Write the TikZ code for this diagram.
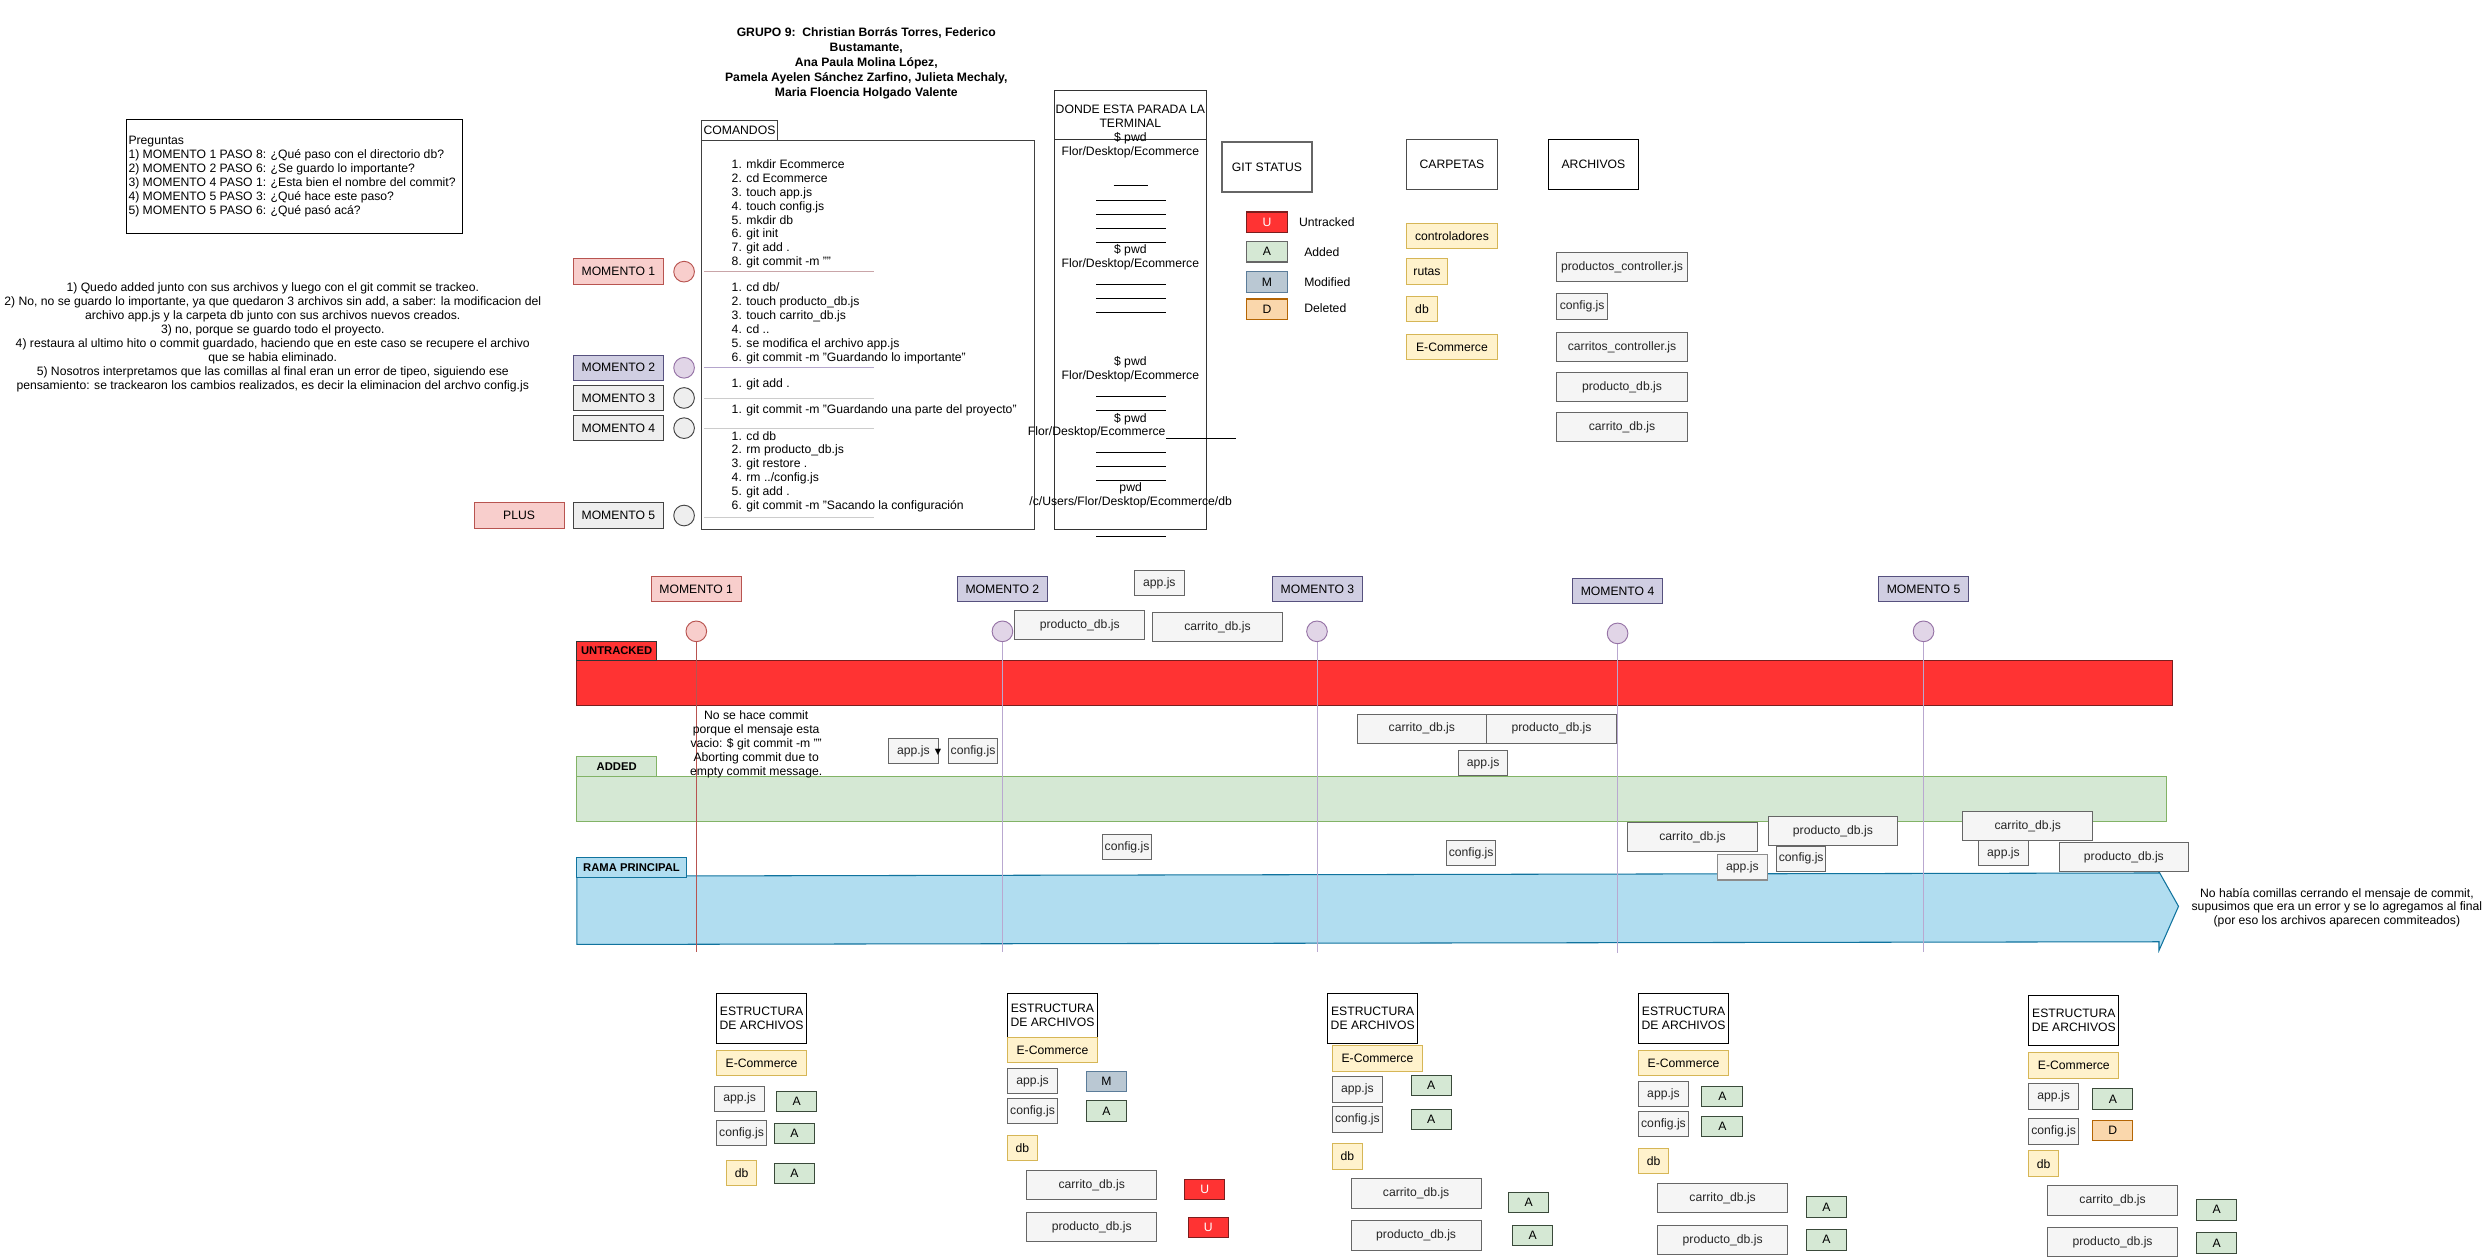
\documentclass[tikz,border=0pt]{standalone}
\usepackage{fontspec}
\setmainfont{Liberation Sans}
\newfontfamily\dejavu{DejaVu Sans}
\newcommand\fs{\fontsize{10.4}{11.9}\selectfont}
\newcommand\rbox[7]{\node[#1, minimum width={(#5-#3)*0.4766mm}, minimum height={(#6-#4)*0.4766mm}] (#2) at ({(#3+#5)/2},{(#4+#6)/2}) {#7};}
\definecolor{pinkF}{HTML}{F8CECC}\definecolor{pinkD}{HTML}{B85450}
\definecolor{purF}{HTML}{D0CEE2}\definecolor{purD}{HTML}{56517E}
\definecolor{lavF}{HTML}{E1D5E7}\definecolor{lavD}{HTML}{9673A6}
\definecolor{grayF}{HTML}{EEEEEE}\definecolor{grayD}{HTML}{444444}
\definecolor{fileF}{HTML}{F5F5F5}\definecolor{fileD}{HTML}{666666}
\definecolor{yelF}{HTML}{FFF2CC}\definecolor{yelD}{HTML}{D6B656}
\definecolor{grnF}{HTML}{D5E8D4}\definecolor{grnD}{HTML}{82B366}
\definecolor{aD}{HTML}{3A4A3A}
\definecolor{bluF}{HTML}{B1DDF0}\definecolor{bluD}{HTML}{10739E}
\definecolor{redF}{HTML}{FF3333}\definecolor{redD}{HTML}{7A1E1E}
\definecolor{mF}{HTML}{BAC8D3}\definecolor{mD}{HTML}{5B7C99}
\definecolor{dF}{HTML}{FAD7AC}\definecolor{dD}{HTML}{B46504}
\definecolor{sepP}{HTML}{C9A5A8}\definecolor{sepL}{HTML}{B4A5CC}\definecolor{sepG}{HTML}{CCCCCC}
\definecolor{vlav}{HTML}{B9A8D0}
\begin{document}
\begin{tikzpicture}[x=0.4766mm,y=-0.4766mm,
  bx/.style={draw, line width=0.8pt, inner sep=0pt, outer sep=0pt, font=\fs, align=center},
  txt/.style={inner sep=0pt, outer sep=0pt, font=\fs},
  plainb/.style={bx, draw=black, fill=white},
  pinkb/.style={bx, fill=pinkF, draw=pinkD},
  purb/.style={bx, fill=purF, draw=purD},
  grayb/.style={bx, fill=grayF, draw=grayD},
  fileb/.style={bx, fill=fileF, draw=fileD, text=black!85},
  yelb/.style={bx, fill=yelF, draw=yelD},
  stA/.style={bx, fill=grnF, draw=aD},
  stM/.style={bx, fill=mF, draw=mD},
  stU/.style={bx, fill=redF, draw=redD, text=white},
  stD/.style={bx, fill=dF, draw=dD},
  lbl/.style={bx, font=\fontsize{9.6}{11}\selectfont\bfseries},
  dot/.style={circle, line width=0.8pt, inner sep=0pt, minimum size=6.2mm},
  pdot/.style={dot, fill=pinkF, draw=pinkD},
  ldot/.style={dot, fill=lavF, draw=lavD},
  gdot/.style={dot, fill=grayF, draw=grayD},
  tline/.style={line width=0.8pt, black},
]
\useasboundingbox (0,0) rectangle (1568,792);
\fill[white] (0,0) rectangle (1568,792);

% ---------- title ----------
\node[txt, font=\fontsize{10.4}{12.7}\selectfont\bfseries, align=center] (title) at (545.3,39.9)
 {GRUPO 9:\ \ Christian Borrás Torres, Federico\\Bustamante,\\Ana Paula Molina López,\\Pamela Ayelen Sánchez Zarfino, Julieta Mechaly,\\Maria Floencia Holgado Valente};

% ---------- preguntas ----------
\rbox{plainb}{preg}{79.5}{75.4}{291}{147.1}{}
\node[txt, anchor=west, align=left] (pregt) at (80.9,111.3)
 {Preguntas\\1) MOMENTO 1 PASO 8: ¿Qué paso con el directorio db?\\2) MOMENTO 2 PASO 6: ¿Se guardo lo importante?\\3) MOMENTO 4 PASO 1: ¿Esta bien el nombre del commit?\\4) MOMENTO 5 PASO 3: ¿Qué hace este paso?\\5) MOMENTO 5 PASO 6: ¿Qué pasó acá?};

\node[txt, align=center] (resp) at (171.7,212.5)
 {1) Quedo added junto con sus archivos y luego con el git commit se trackeo.\\2) No, no se guardo lo importante, ya que quedaron 3 archivos sin add, a saber: la modificacion del\\archivo app.js y la carpeta db junto con sus archivos nuevos creados.\\3) no, porque se guardo todo el proyecto.\\4) restaura al ultimo hito o commit guardado, haciendo que en este caso se recupere el archivo\\que se habia eliminado.\\5) Nosotros interpretamos que las comillas al final eran un error de tipeo, siguiendo ese\\pensamiento: se trackearon los cambios realizados, es decir la eliminacion del archvo config.js};

% ---------- side momentos ----------
\rbox{pinkb}{s1}{361}{163}{417.5}{179}{MOMENTO 1}
\rbox{purb}{s2}{361}{223.5}{417.5}{239.5}{MOMENTO 2}
\rbox{grayb}{s3}{361}{242.5}{417.5}{258.5}{MOMENTO 3}
\rbox{grayb}{s4}{361}{261.5}{417.5}{277.5}{MOMENTO 4}
\rbox{grayb}{s5}{361}{316.5}{417.5}{332.5}{MOMENTO 5}
\rbox{pinkb}{plus}{298.5}{316.5}{355}{332.5}{PLUS}

% ---------- comandos ----------
\rbox{bx, draw=black!75}{cmdtab}{441.5}{76}{489.5}{88.5}{COMANDOS}
\rbox{bx, draw=black!75}{cmdbox}{441.5}{88.5}{651}{333.5}{}
\draw[sepP, line width=1pt] (443,171) -- (550,171);
\draw[sepL, line width=1pt] (443,231.5) -- (550,231.5);
\draw[sepG, line width=0.8pt] (443,251) -- (550,251);
\draw[sepG, line width=0.8pt] (443,270) -- (550,270);
\draw[sepG, line width=0.8pt] (443,325.5) -- (550,325.5);
\node[pdot] (sc1) at (430.6,171) {};
\node[ldot] (sc2) at (430.6,231.5) {};
\node[gdot] (sc3) at (430.6,250.5) {};
\node[gdot] (sc4) at (430.6,269.5) {};
\node[gdot] (sc5) at (430.6,324.5) {};
\node[txt, anchor=west, align=left] (g1) at (460.6,134.65)
 {1. mkdir Ecommerce\\2. cd Ecommerce\\3. touch app.js\\4. touch config.js\\5. mkdir db\\6. git init\\7. git add .\\8. git commit -m ""};
\node[txt, anchor=west, align=left] (g2) at (460.6,203.75)
 {1. cd db/\\2. touch producto\_db.js\\3. touch carrito\_db.js\\4. cd ..\\5. se modifica el archivo app.js\\6. git commit -m "Guardando lo importante"};
\node[txt, anchor=west] (g3) at (460.6,242.2) {1. git add .};
\node[txt, anchor=west] (g4) at (460.6,258.5) {1. git commit -m "Guardando una parte del proyecto"};
\node[txt, anchor=west, align=left] (g5) at (460.6,296.95)
 {1. cd db\\2. rm producto\_db.js\\3. git restore .\\4. rm ../config.js\\5. git add .\\6. git commit -m "Sacando la configuración};

% ---------- terminal ----------
\rbox{bx, draw=black!80}{termh}{663.5}{57}{759.5}{88}{}
\rbox{bx, draw=black!80}{termb}{663.5}{88}{759.5}{333.3}{}
\node[txt, align=center] (termt) at (711.5,72.9) {DONDE ESTA PARADA LA\\TERMINAL};
\node[txt, align=center] (p1) at (711.5,91.5) {\$ pwd\\Flor/Desktop/Ecommerce};
\node[txt, align=center] (p2) at (711.5,162.2) {\$ pwd\\Flor/Desktop/Ecommerce};
\node[txt, align=center] (p3) at (711.5,232.7) {\$ pwd\\Flor/Desktop/Ecommerce};
\node[txt] (p4) at (711.5,263.6) {\$ pwd};
\node[txt, anchor=east] (p5) at (733.6,272.4) {Flor/Desktop/Ecommerce};
\node[txt, align=center] (p6) at (711.7,312) {pwd\\/c/Users/Flor/Desktop/Ecommerce/db};
\draw[tline] (701,117) -- (722.5,117);
\foreach \yy in {126,135,143.7,152.5,179,187.8,196.6,249.3,258.1,284.7,293.6,302.3,337.4}
  \draw[tline] (690,\yy) -- (734,\yy);
\draw[tline] (734,276) -- (778,276);

% ---------- git status / legend ----------
\rbox{bx, draw=black!60, line width=1.4pt}{git}{769}{89.4}{826}{120.9}{GIT STATUS}
\rbox{stU, line width=1.2pt}{lu}{784.6}{133.5}{810.4}{146.5}{U}
\rbox{stA, draw=fileD, line width=1.2pt}{la}{784.6}{152}{810.4}{165}{A}
\rbox{stM, line width=1.2pt}{lm}{784.6}{171}{810.4}{184}{M}
\rbox{stD, line width=1.2pt}{ld}{784.6}{188.2}{810.4}{201}{D}
\node[txt, anchor=west] (lut) at (817.7,140) {Untracked};
\node[txt, anchor=west] (lat) at (821,158.8) {Added};
\node[txt, anchor=west] (lmt) at (821,177.7) {Modified};
\node[txt, anchor=west] (ldt) at (821,193.7) {Deleted};

% ---------- carpetas ----------
\rbox{bx, draw=black!70, line width=1pt}{carp}{885.5}{87.7}{942.4}{119.2}{CARPETAS}
\rbox{yelb}{ctrl}{885.5}{140.4}{942.4}{156.3}{controladores}
\rbox{yelb}{rutas}{885.5}{162.8}{911}{179}{rutas}
\rbox{yelb}{cdb}{885.5}{186.7}{904.7}{202.5}{db}
\rbox{yelb}{cec}{885.5}{210.5}{942.4}{226.4}{E-Commerce}

% ---------- archivos ----------
\rbox{plainb, line width=1pt}{arch}{974.7}{87.7}{1031.3}{119.2}{ARCHIVOS}
\rbox{fileb}{af1}{980}{159}{1062}{177}{productos\_controller.js}
\rbox{fileb}{af2}{980}{184.9}{1011.8}{201}{config.js}
\rbox{fileb}{af3}{980}{209.4}{1062}{227.4}{carritos\_controller.js}
\rbox{fileb}{af4}{980}{234.6}{1062}{252.6}{producto\_db.js}
\rbox{fileb}{af5}{980}{259.8}{1062}{277.8}{carrito\_db.js}

% ---------- timeline bars ----------
\draw[fill=redF, draw=redD, line width=0.9pt] (363.1,415.9) rectangle (1367.3,444.2);
\draw[fill=grnF, draw=grnD, line width=0.9pt] (363.1,488.5) rectangle (1363.7,516.8);
\draw[fill=bluF, draw=bluD, line width=0.9pt] (363.1,551.5) -- (1359,549.5) -- (1359,548.7) -- (1371.3,570.5) -- (1359,598.3) -- (1359,592.8) -- (363.1,594.5) -- cycle;
\rbox{lbl, fill=redF, draw=black!80}{lunt}{363.1}{403.7}{413.2}{415.9}{UNTRACKED}
\rbox{lbl, fill=grnF, draw=grnD}{ladd}{363.1}{476.1}{413.2}{488.5}{ADDED}
\rbox{lbl, fill=bluF, draw=bluD}{lrama}{363.1}{539.7}{431.9}{552.3}{RAMA PRINCIPAL}

% ---------- timeline verticals ----------
\coordinate (e1) at (438.3,599);
\coordinate (e2) at (631,599);
\coordinate (e3) at (829,599);
\coordinate (e4) at (1018.2,600);
\coordinate (e5) at (1210.8,599);
\coordinate (b1) at (438.3,397.4);
\coordinate (b2) at (631,397.4);
\coordinate (b3) at (829,397.4);
\coordinate (b4) at (1018.2,398.7);
\coordinate (b5) at (1210.8,397.4);
\draw[pinkD, line width=0.7pt] (b1) -- (e1);
\draw[vlav, line width=0.8pt] (b2) -- (e2);
\draw[vlav, line width=0.8pt] (b3) -- (e3);
\draw[vlav, line width=0.8pt] (b4) -- (e4);
\draw[vlav, line width=0.8pt] (b5) -- (e5);
\node[pdot] (tc1) at (b1) {};
\node[ldot] (tc2) at (b2) {};
\node[ldot] (tc3) at (b3) {};
\node[ldot] (tc4) at (b4) {};
\node[ldot] (tc5) at (b5) {};

\rbox{pinkb}{tm1}{410}{362.8}{466.5}{378.5}{MOMENTO 1}
\rbox{purb}{tm2}{602.7}{362.8}{659.2}{378.5}{MOMENTO 2}
\rbox{purb}{tm3}{801.2}{362.8}{857.4}{378.5}{MOMENTO 3}
\rbox{purb}{tm4}{990}{364}{1046.4}{379.8}{MOMENTO 4}
\rbox{purb}{tm5}{1182.6}{362.8}{1239}{378.5}{MOMENTO 5}

% ---------- timeline files ----------
\rbox{fileb}{f1}{714.2}{359}{745.3}{374.8}{app.js}
\rbox{fileb}{f2}{638.7}{384.2}{720.6}{402.5}{producto\_db.js}
\rbox{fileb}{f3}{725.4}{385.5}{807.3}{403.7}{carrito\_db.js}
\rbox{fileb}{f4}{559}{464.8}{590.9}{480.5}{app.js}
\node[txt, font=\dejavu\fontsize{7}{8}\selectfont] (tri) at (590.5,473.6) {▼};
\rbox{fileb}{f5}{597}{464.8}{628}{480.5}{config.js}
\rbox{fileb}{f6}{693.9}{525.4}{725}{541}{config.js}
\rbox{fileb}{f7}{854.2}{449.7}{935.8}{467.7}{carrito\_db.js}
\rbox{fileb}{f8}{935.8}{449.7}{1017.5}{467.7}{producto\_db.js}
\rbox{fileb}{f9}{918}{472.5}{949.2}{488}{app.js}
\rbox{fileb}{f10}{910.5}{529}{941.6}{544.7}{config.js}
\rbox{fileb}{f11}{1024.3}{517.7}{1106.4}{535.9}{carrito\_db.js}
\rbox{fileb}{f12}{1112.9}{513.9}{1194.6}{532.1}{producto\_db.js}
\rbox{fileb}{f14}{1118.3}{532.6}{1149.3}{548.5}{config.js}
\rbox{fileb, draw=black!45, line width=1.2pt}{f13}{1081}{537.8}{1112.5}{554}{app.js}
\rbox{fileb}{f15}{1235.4}{511}{1317.4}{529}{carrito\_db.js}
\rbox{fileb}{f16}{1245.6}{529}{1276.6}{544.7}{app.js}
\rbox{fileb}{f17}{1296.1}{530.3}{1377.7}{548.5}{producto\_db.js}

\node[txt, align=center] (nota1) at (476,468.75)
 {No se hace commit\\porque el mensaje esta\\vacio: \$ git commit -m ""\\Aborting commit due to\\empty commit message.};
\node[txt, align=center] (nota2) at (1471,571.4)
 {No había comillas cerrando el mensaje de commit,\\supusimos que era un error y se lo agregamos al final\\(por eso los archivos aparecen commiteados)};

% ---------- estructuras ----------
% group 1
\rbox{plainb}{E1}{451}{625.1}{507.8}{656.8}{ESTRUCTURA\\DE ARCHIVOS}
\rbox{yelb}{EC1}{451}{661.2}{507.8}{677.1}{E-Commerce}
\rbox{fileb}{a1}{449.8}{683.6}{481.3}{699.6}{app.js}
\rbox{stA}{a1s}{488.9}{686.8}{514.2}{699.6}{A}
\rbox{fileb}{c1}{451}{705.3}{482.5}{721}{config.js}
\rbox{stA}{c1s}{487.4}{707.4}{512.7}{719.7}{A}
\rbox{yelb}{d1}{457.2}{730.4}{476.4}{746.2}{db}
\rbox{stA}{d1s}{487.4}{732.3}{512.7}{744.9}{A}
% group 2
\rbox{plainb}{E2}{634.1}{625.1}{690.9}{653}{ESTRUCTURA\\DE ARCHIVOS}
\rbox{yelb}{EC2}{634.1}{653}{690.9}{669}{E-Commerce}
\rbox{fileb}{a2}{634.1}{672.5}{665.8}{688.5}{app.js}
\rbox{stM}{a2s}{683.8}{674.6}{709.2}{687}{M}
\rbox{fileb}{c2}{634.1}{691.4}{665.8}{707.4}{config.js}
\rbox{stA}{c2s}{683.8}{692.9}{709.2}{705.9}{A}
\rbox{yelb}{d2}{634.1}{714.7}{653}{730.4}{db}
\rbox{fileb}{k2}{646.3}{736.7}{728.1}{755}{carrito\_db.js}
\rbox{stU}{k2s}{745.8}{742.4}{770.8}{755}{U}
\rbox{fileb}{q2}{646.3}{763.2}{728.1}{781.4}{producto\_db.js}
\rbox{stU}{q2s}{747.9}{766.1}{773.3}{778.9}{U}
% group 3
\rbox{plainb}{E3}{835.8}{625.1}{892.3}{656.8}{ESTRUCTURA\\DE ARCHIVOS}
\rbox{yelb}{EC3}{838.5}{658.3}{895.6}{674.2}{E-Commerce}
\rbox{fileb}{a3}{838.5}{677.8}{870.3}{693.9}{app.js}
\rbox{stA}{a3s}{888.3}{676.9}{913.6}{689.7}{A}
\rbox{fileb}{c3}{838.5}{696.7}{870.3}{712.6}{config.js}
\rbox{stA}{c3s}{888.3}{698.3}{913.6}{711.1}{A}
\rbox{yelb}{d3}{838.5}{719.7}{857.8}{736}{db}
\rbox{fileb}{k3}{850.5}{742}{932.3}{760.6}{carrito\_db.js}
\rbox{stA}{k3s}{949.6}{750.6}{974.9}{763.2}{A}
\rbox{fileb}{q3}{850.5}{768.4}{932.3}{786.9}{producto\_db.js}
\rbox{stA}{q3s}{952}{771.6}{977.4}{784}{A}
% group 4
\rbox{plainb}{E4}{1031.4}{625.1}{1088.1}{656.8}{ESTRUCTURA\\DE ARCHIVOS}
\rbox{yelb}{EC4}{1031.4}{661.2}{1088.1}{677.1}{E-Commerce}
\rbox{fileb}{a4}{1031.4}{680.7}{1062.8}{696.7}{app.js}
\rbox{stA}{a4s}{1071.3}{683.8}{1097}{696.7}{A}
\rbox{fileb}{c4}{1031.4}{699.6}{1062.8}{715.5}{config.js}
\rbox{stA}{c4s}{1071.3}{702.7}{1097}{715.3}{A}
\rbox{yelb}{d4}{1031.4}{722.9}{1050.3}{738.6}{db}
\rbox{fileb}{k4}{1043.3}{744.9}{1125.4}{763.2}{carrito\_db.js}
\rbox{stA}{k4s}{1137}{753.3}{1162.3}{766.3}{A}
\rbox{fileb}{q4}{1043.3}{771.3}{1125.4}{789.6}{producto\_db.js}
\rbox{stA}{q4s}{1137}{773.9}{1162.3}{786.9}{A}
% group 5
\rbox{plainb}{E5}{1277}{626.6}{1333.8}{658.3}{ESTRUCTURA\\DE ARCHIVOS}
\rbox{yelb}{EC5}{1277}{662.4}{1333.8}{678.8}{E-Commerce}
\rbox{fileb}{a5}{1277}{682.2}{1308.4}{698.3}{app.js}
\rbox{stA}{a5s}{1317.3}{685.1}{1342.6}{698.3}{A}
\rbox{fileb}{c5}{1277}{704}{1308.4}{720.1}{config.js}
\rbox{stD}{c5s}{1317.3}{705.3}{1342.6}{718.1}{D}
\rbox{yelb}{d5}{1277}{724.4}{1295.9}{740.7}{db}
\rbox{fileb}{k5}{1288.9}{746.4}{1370.7}{765}{carrito\_db.js}
\rbox{stA}{k5s}{1382.6}{755}{1407.9}{768}{A}
\rbox{fileb}{q5}{1288.9}{772.6}{1370.7}{791.2}{producto\_db.js}
\rbox{stA}{q5s}{1382.6}{776}{1407.9}{789}{A}
\end{tikzpicture}
\end{document}
